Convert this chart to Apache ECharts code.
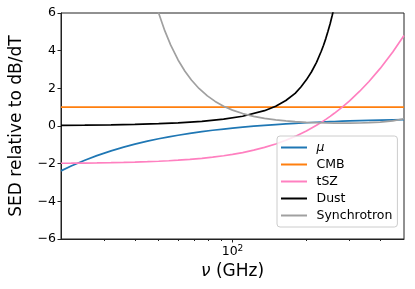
<!DOCTYPE html>
<html>
<head>
<meta charset="utf-8">
<script src="https://cdn.jsdelivr.net/npm/echarts@6/dist/echarts.min.js"></script>
<style>
html,body{margin:0;padding:0;background:#fff;}
#c{width:415px;height:289px;}
</style>
</head>
<body>
<div id="c"></div>
<script>
// Frequencies (GHz) at which the mu, CMB and tSZ curves were read
const freqGHz = [20, 22, 25, 28, 32, 36, 40, 45, 50, 55, 60, 67, 75, 83, 92, 100, 110, 122, 135, 150, 165, 180, 200, 220, 230, 240, 250, 260, 280, 300, 330, 360, 400, 450, 500];
const muSED = [-2.382, -2.124, -1.815, -1.571, -1.318, -1.121, -0.963, -0.805, -0.679, -0.576, -0.490, -0.391, -0.300, -0.227, -0.161, -0.111, -0.060, -0.009, 0.036, 0.078, 0.113, 0.141, 0.173, 0.199, 0.210, 0.220, 0.230, 0.238, 0.254, 0.267, 0.285, 0.299, 0.315, 0.330, 0.343];
const cmbSED = [1, 1, 1, 1, 1, 1, 1, 1, 1, 1, 1, 1, 1, 1, 1, 1, 1, 1, 1, 1, 1, 1, 1, 1, 1, 1, 1, 1, 1, 1, 1, 1, 1, 1, 1];
const tszSED = [-1.979, -1.975, -1.968, -1.960, -1.947, -1.933, -1.918, -1.896, -1.872, -1.846, -1.817, -1.773, -1.717, -1.656, -1.580, -1.508, -1.410, -1.284, -1.136, -0.953, -0.758, -0.552, -0.263, 0.039, 0.194, 0.352, 0.512, 0.674, 1.003, 1.337, 1.847, 2.363, 3.057, 3.931, 4.809];

// Dust: denser reading where it climbs steeply
const dustFreqGHz = [20, 25, 32, 40, 50, 60, 75, 92, 110, 135, 150, 165, 180, 190, 200, 210, 220, 230, 235, 240, 245, 250, 255, 260];
const dustSED = [0.030, 0.042, 0.061, 0.087, 0.124, 0.168, 0.247, 0.361, 0.516, 0.813, 1.052, 1.354, 1.734, 2.07, 2.45, 2.88, 3.38, 3.97, 4.29, 4.64, 5.03, 5.43, 5.88, 6.35];

// Synchrotron: denser reading where it falls steeply
const syncFreqGHz = [45, 47, 50, 53, 56, 60, 64, 68, 73, 79, 85, 92, 100, 110, 122, 135, 150, 165, 180, 200, 220, 240, 260, 280, 300, 330, 360, 400, 450, 500];
const syncSED = [8.217, 7.215, 6.000, 5.048, 4.292, 3.506, 2.907, 2.441, 1.994, 1.597, 1.305, 1.052, 0.844, 0.661, 0.513, 0.406, 0.324, 0.269, 0.231, 0.197, 0.175, 0.162, 0.154, 0.151, 0.152, 0.159, 0.174, 0.206, 0.273, 0.385];

const seriesNames = ['μ', 'CMB', 'tSZ', 'Dust', 'Synchrotron'];
const seriesFreqs = [freqGHz, freqGHz, freqGHz, dustFreqGHz, syncFreqGHz];
const seriesValues = [muSED, cmbSED, tszSED, dustSED, syncSED];
const seriesColors = ['#1f77b4', '#ff7f0e', '#ff80c0', '#000000', '#a0a0a0'];

// Axis ticks
const xRange = [20, 500];
const xMajorTicks = [100];
const xMinorTicks = [30, 40, 50, 60, 70, 80, 90, 200, 300, 400];
const yRange = [-6, 6];
const yStep = 2;

const FONT = 'DejaVu Sans';

function pairs(fs, vals) {
  return fs.map((f, i) => [f, vals[i]]);
}

const chart = echarts.init(document.getElementById('c'), null, {renderer: 'canvas'});
chart.setOption({
  animation: false,
  backgroundColor: '#fff',
  grid: {left: 57, right: 11, top: 13, bottom: 50, show: true, borderColor: '#222', borderWidth: 1, backgroundColor: 'transparent'},
  xAxis: [
    {
      type: 'log', logBase: 10, min: xRange[0], max: xRange[1], position: 'bottom',
      axisLine: {show: true, onZero: false, lineStyle: {color: '#222', width: 1}},
      axisTick: {show: true, length: 3.5, inside: false, customValues: xMajorTicks, lineStyle: {color: '#222'}},
      minorTick: {show: false},
      splitLine: {show: false},
      axisLabel: {
        show: true, customValues: xMajorTicks, margin: 5,
        formatter: function () { return '{b|10}{s|2}'; },
        rich: {
          b: {fontFamily: FONT, fontSize: 12.5, color: '#000'},
          s: {fontFamily: FONT, fontSize: 9, color: '#000', verticalAlign: 'top', padding: [0, 0, 6, 0]}
        }
      },
      name: '{it|ν} (GHz)', nameLocation: 'middle', nameGap: 13,
      nameTextStyle: {
        fontFamily: FONT, fontSize: 17, color: '#000',
        rich: {it: {fontFamily: FONT, fontSize: 17, fontStyle: 'italic', color: '#000'}}
      }
    },
    {
      type: 'log', logBase: 10, min: xRange[0], max: xRange[1], position: 'bottom', gridIndex: 0,
      axisLine: {show: false, onZero: false},
      axisTick: {show: true, length: 2, customValues: xMinorTicks, lineStyle: {color: '#222'}},
      axisLabel: {show: false},
      splitLine: {show: false}
    }
  ],
  yAxis: {
    type: 'value', min: yRange[0], max: yRange[1], interval: yStep,
    axisLine: {show: true, onZero: false, lineStyle: {color: '#222', width: 1}},
    axisTick: {show: true, length: 3.5, lineStyle: {color: '#222'}},
    splitLine: {show: false},
    axisLabel: {
      fontFamily: FONT, fontSize: 12.5, color: '#000', margin: 5,
      formatter: function (v) { return v < 0 ? '\u2212' + (-v) : String(v); }
    },
    name: 'SED relative to dB/dT', nameLocation: 'middle', nameGap: 36, nameRotate: 90,
    nameTextStyle: {fontFamily: FONT, fontSize: 17, color: '#000'}
  },
  legend: {
    orient: 'vertical', left: 277, top: 136,
    padding: [5, 5, 5, 4], itemGap: 4, itemWidth: 26, itemHeight: 2, icon: 'rect',
    backgroundColor: 'rgba(255,255,255,0.8)', borderColor: '#cccccc', borderWidth: 1, borderRadius: 3,
    data: seriesNames,
    formatter: function (n) { return n === 'μ' ? '{it|μ}' : n; },
    textStyle: {
      fontFamily: FONT, fontSize: 12.5, color: '#000', padding: [0, 0, 0, 4.5],
      rich: {it: {fontFamily: FONT, fontSize: 12.5, fontStyle: 'italic', color: '#000'}}
    }
  },
  series: seriesNames.map((n, i) => ({
    name: n, type: 'line', xAxisIndex: 0, yAxisIndex: 0,
    data: pairs(seriesFreqs[i], seriesValues[i]),
    symbol: 'none', smooth: false, clip: true,
    lineStyle: {color: seriesColors[i], width: 1.7},
    itemStyle: {color: seriesColors[i]}
  }))
});
</script>
</body>
</html>
